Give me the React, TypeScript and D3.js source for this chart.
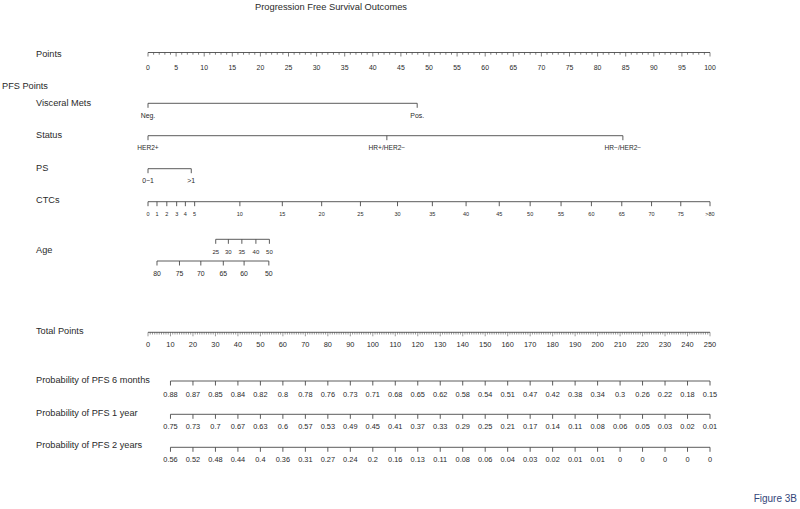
import React from "react";
import * as d3 from "d3";

// ---- data ----
const pointsTicks = d3.range(0, 101, 5);
const totalTicks = d3.range(0, 251, 10);

const visceralLabels = ["Neg.", "Pos."];
const visceralPts = [0, 47.9];

const statusLabels = ["HER2+", "HR+/HER2\u2212", "HR\u2212/HER2\u2212"];
const statusPts = [0, 42.5, 84.5];

const psLabels = ["0\u22121", ">1"];
const psPts = [0, 7.7];

const ctcLabels = ["0", "1", "2", "3", "4", "5", "10", "15", "20", "25", "30", "35", "40", "45", "50", "55", "60", "65", "70", "75", ">80"];
const ctcPts = [0, 1.6, 3.35, 5.1, 6.65, 8.3, 16.35, 23.9, 30.9, 37.8, 44.4, 50.6, 56.6, 62.5, 68.0, 73.5, 78.9, 84.3, 89.6, 94.8, 100];

const ageUpperLabels = ["25", "30", "35", "40", "50"];
const ageUpperPts = [12.05, 14.3, 16.7, 19.2, 21.6];
const ageLowerLabels = ["80", "75", "70", "65", "60", "50"];
const ageLowerPts = [1.6, 5.6, 9.4, 13.4, 17.1, 21.5];

const probTotals = d3.range(10, 251, 10);
const pfs6m = [0.88, 0.87, 0.85, 0.84, 0.82, 0.8, 0.78, 0.76, 0.73, 0.71, 0.68, 0.65, 0.62, 0.58, 0.54, 0.51, 0.47, 0.42, 0.38, 0.34, 0.3, 0.26, 0.22, 0.18, 0.15];
const pfs1y = [0.75, 0.73, 0.7, 0.67, 0.63, 0.6, 0.57, 0.53, 0.49, 0.45, 0.41, 0.37, 0.33, 0.29, 0.25, 0.21, 0.17, 0.14, 0.11, 0.08, 0.06, 0.05, 0.03, 0.02, 0.01];
const pfs2y = [0.56, 0.52, 0.48, 0.44, 0.4, 0.36, 0.31, 0.27, 0.24, 0.2, 0.16, 0.13, 0.11, 0.08, 0.06, 0.04, 0.03, 0.02, 0.01, 0.01, 0, 0, 0, 0, 0];

const FONT = "'Liberation Sans', Arial, Helvetica, sans-serif";
const LINE = "#4a4a4a";
const TEXT = "#2a2a2a";

const xPts = d3.scaleLinear().domain([0, 100]).range([148, 710]);
const xTot = d3.scaleLinear().domain([0, 250]).range([148, 710]);

type AxisProps = {
  y: number;
  xs: number[];
  labels: string[];
  fs: number;
  tick?: number;
  labelDy?: number;
};

function CatAxis({ y, xs, labels, fs, tick = 4.5, labelDy = 12 }: AxisProps) {
  const x0 = d3.min(xs) as number;
  const x1 = d3.max(xs) as number;
  return (
    <g>
      <line x1={x0} x2={x1} y1={y} y2={y} stroke={LINE} strokeWidth={0.9} />
      {xs.map((x, i) => (
        <g key={i}>
          <line x1={x} x2={x} y1={y} y2={y + tick} stroke={LINE} strokeWidth={0.9} />
          <text x={x} y={y + labelDy} textAnchor="middle" dominantBaseline="central" fontSize={fs} fill={TEXT}>
            {labels[i]}
          </text>
        </g>
      ))}
    </g>
  );
}

function RowLabel({ y, text }: { y: number; text: string }) {
  return (
    <text x={36} y={y} dominantBaseline="central" fontSize={9.2} fill={TEXT}>
      {text}
    </text>
  );
}

export default function App() {
  const pointsMinor = d3.range(0, 101, 1);
  const totalMinor = d3.range(0, 251, 1);
  return (
    <svg width={800} height={509} style={{ position: "absolute", left: 0, top: 0, background: "#fff" }} fontFamily={FONT}>
      <rect x={0} y={0} width={800} height={509} fill="#fff" />
      <text x={331} y={7} textAnchor="middle" dominantBaseline="central" fontSize={9.3} fill={TEXT}>
        Progression Free Survival Outcomes
      </text>

      {/* Points */}
      <RowLabel y={54} text="Points" />
      <line x1={xPts(0)} x2={xPts(100)} y1={52.5} y2={52.5} stroke={LINE} strokeWidth={0.9} />
      {pointsMinor.map((v) => (
        <line key={v} x1={xPts(v)} x2={xPts(v)} y1={52.5} y2={52.5 + (v % 5 === 0 ? 4 : 2.2)} stroke={LINE} strokeWidth={0.7} />
      ))}
      {pointsTicks.map((v) => (
        <text key={v} x={xPts(v)} y={67} textAnchor="middle" dominantBaseline="central" fontSize={6.9} fill={TEXT}>
          {v}
        </text>
      ))}

      <text x={2} y={86} dominantBaseline="central" fontSize={9.2} fill={TEXT}>PFS Points</text>

      <RowLabel y={102.7} text="Visceral Mets" />
      <CatAxis y={103.3} xs={visceralPts.map(xPts)} labels={visceralLabels} fs={6.9} labelDy={12.5} />

      <RowLabel y={134.7} text="Status" />
      <CatAxis y={135.7} xs={statusPts.map(xPts)} labels={statusLabels} fs={6.6} labelDy={11.5} />

      <RowLabel y={167.7} text="PS" />
      <CatAxis y={168.7} xs={psPts.map(xPts)} labels={psLabels} fs={6.9} labelDy={11.5} />

      <RowLabel y={200.3} text="CTCs" />
      <CatAxis y={201.7} xs={ctcPts.map(xPts)} labels={ctcLabels} fs={5.5} labelDy={12.6} />

      <RowLabel y={250} text="Age" />
      <CatAxis y={239.3} xs={ageUpperPts.map(xPts)} labels={ageUpperLabels} fs={6} labelDy={12.7} />
      <CatAxis y={261} xs={ageLowerPts.map(xPts)} labels={ageLowerLabels} fs={6.9} labelDy={12.7} />

      {/* Total Points */}
      <RowLabel y={331} text="Total Points" />
      <line x1={xTot(0)} x2={xTot(250)} y1={332.3} y2={332.3} stroke={LINE} strokeWidth={0.9} />
      {totalMinor.map((v) => (
        <line key={v} x1={xTot(v)} x2={xTot(v)} y1={332.3} y2={332.3 + (v % 10 === 0 ? 4 : 2.2)} stroke={LINE} strokeWidth={0.55} />
      ))}
      {totalTicks.map((v) => (
        <text key={v} x={xTot(v)} y={344.7} textAnchor="middle" dominantBaseline="central" fontSize={7.4} fill={TEXT}>
          {v}
        </text>
      ))}

      <RowLabel y={380} text="Probability of PFS 6 months" />
      <CatAxis y={381} xs={probTotals.map(xTot)} labels={pfs6m.map(String)} fs={7.4} labelDy={13} />

      <RowLabel y={413.3} text="Probability of PFS 1 year" />
      <CatAxis y={414.3} xs={probTotals.map(xTot)} labels={pfs1y.map(String)} fs={7.4} labelDy={12} />

      <RowLabel y={445} text="Probability of PFS 2 years" />
      <CatAxis y={447.3} xs={probTotals.map(xTot)} labels={pfs2y.map(String)} fs={7.4} labelDy={12} />

      <text x={797} y={498} textAnchor="end" dominantBaseline="central" fontSize={10} fill="#34467a">
        Figure 3B
      </text>
    </svg>
  );
}
